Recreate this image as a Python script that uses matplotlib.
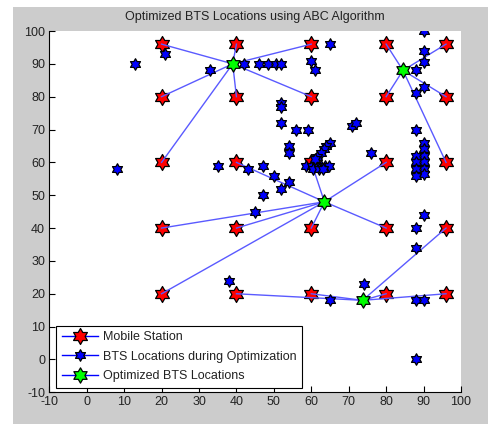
import numpy as np
import matplotlib
matplotlib.use("Agg")
import matplotlib.pyplot as plt
from matplotlib.path import Path
from matplotlib.lines import Line2D
from matplotlib.patches import Rectangle

plt.rcParams['font.family'] = ['Liberation Sans', 'DejaVu Sans']
plt.rcParams['axes.unicode_minus'] = False

# mobile stations on a regular grid
ms_x = [20, 40, 60, 80, 96] * 5
ms_y = [96] * 5 + [80] * 5 + [60] * 5 + [40] * 5 + [20] * 5

# final BTS positions
bts_x = [39, 84.5, 63.5, 73.7]
bts_y = [90, 88, 48, 18]

# which BTS serves each mobile station (same order as ms_x / ms_y)
serving_bts = [0, 0, 0, 1, 1,
               0, 0, 0, 1, 1,
               0, 2, 2, 2, 1,
               2, 2, 2, 2, 3,
               2, 3, 3, 3, 3]

# candidate BTS positions visited while optimising
search_x = [13, 21, 33, 42, 46, 48.5, 50.5, 52, 60, 61, 65, 90, 90, 90, 88, 90, 88, 88,
            52, 52, 52, 56, 59, 71, 72,
            54, 54, 65, 64, 63.5, 62.6, 61.4,
            58.6, 60.3, 61.4, 62.6, 63.7, 64.8, 60.5, 62, 63, 61,
            76,
            90, 90, 90, 90, 90, 90, 88, 88, 88, 88,
            8, 35, 43, 47, 50, 54, 52, 47, 45,
            90, 88, 88, 74, 38, 65, 88, 90, 88]
search_y = [90, 93, 88, 90, 90, 90, 90, 90, 91, 88, 96, 100, 94, 90.5, 88, 83, 81, 70,
            78, 77, 72, 70, 70, 71, 72,
            65, 63, 66, 65, 64, 63, 61.6,
            59, 59, 59, 59, 59, 59, 58, 58, 58, 61,
            63,
            66, 64, 62, 60, 58, 56.5, 62, 60, 58, 56,
            58, 59, 58, 59, 56, 54, 52, 50, 45,
            44, 40, 34, 23, 24, 18, 18, 18, 0]

x_ticks = list(range(-10, 101, 10))
y_ticks = list(range(-10, 101, 10))

# six-pointed star like MATLAB's 'hexagram'
ang = np.deg2rad(90 + 30 * np.arange(12))
rad = np.where(np.arange(12) % 2 == 0, 1.0, 1 / np.sqrt(3))
verts = np.column_stack([rad * np.cos(ang), rad * np.sin(ang)])
verts = np.vstack([verts, verts[:1]])
codes = [Path.MOVETO] + [Path.LINETO] * 11 + [Path.CLOSEPOLY]
hexagram = Path(verts, codes)

fig = plt.figure(figsize=(4.88, 4.24), dpi=100)
fig.patch.set_facecolor('white')
fig.add_artist(Rectangle((13 / 488, 0), 1, 417 / 424, transform=fig.transFigure,
                         facecolor='#cccccc', edgecolor='none', zorder=-10))

ax = fig.add_axes([49.3 / 488, (424 - 392.3) / 424, 411.7 / 488, 361.3 / 424])
ax.set_facecolor('white')

for i in range(len(ms_x)):
    b = serving_bts[i]
    ax.plot([ms_x[i], bts_x[b]], [ms_y[i], bts_y[b]], '-', color='#5a5aff', lw=1.0, zorder=3)

ax.plot(ms_x, ms_y, linestyle='none', marker=hexagram, markersize=11.5,
        mfc='#ff0000', mec='black', mew=0.9, zorder=2)
ax.plot(bts_x, bts_y, linestyle='none', marker=hexagram, markersize=11,
        mfc='#00ff00', mec='black', mew=0.9, zorder=4)
ax.plot(search_x, search_y, linestyle='none', marker=hexagram, markersize=8.3,
        mfc='#0000ff', mec='black', mew=0.9, zorder=5)

ax.set_xlim(-10, 100)
ax.set_ylim(-10, 100)
ax.set_xticks(x_ticks)
ax.set_yticks(y_ticks)
ax.tick_params(direction='in', length=4, width=0.8, labelsize=9, colors='black',
               labelcolor='#222222', pad=3)
ax.spines['top'].set_visible(False)
ax.spines['right'].set_visible(False)
for s in ('left', 'bottom'):
    ax.spines[s].set_linewidth(0.8)

ax.set_title("Optimized BTS Locations using ABC Algorithm", fontsize=9, pad=8,
             color='#222222')

handles = [
    Line2D([], [], color='#0000ff', lw=1, marker=hexagram, markersize=11.5,
           mfc='#ff0000', mec='black', mew=0.9),
    Line2D([], [], color='#0000ff', lw=1, marker=hexagram, markersize=8.3,
           mfc='#0000ff', mec='black', mew=0.9),
    Line2D([], [], color='#0000ff', lw=1, marker=hexagram, markersize=11,
           mfc='#00ff00', mec='black', mew=0.9),
]
labels = ["Mobile Station", "BTS Locations during Optimization", "Optimized BTS Locations"]
leg = ax.legend(handles, labels, loc='lower left', bbox_to_anchor=(0.016, 0.012),
                fontsize=9, fancybox=False, framealpha=1, edgecolor='black',
                handlelength=2.9, handletextpad=0.4, labelspacing=0.6,
                borderpad=0.45, borderaxespad=0)
leg.get_frame().set_linewidth(0.8)
for t in leg.get_texts():
    t.set_color('#222222')

fig.savefig("out.png", dpi=100, facecolor=fig.get_facecolor())
